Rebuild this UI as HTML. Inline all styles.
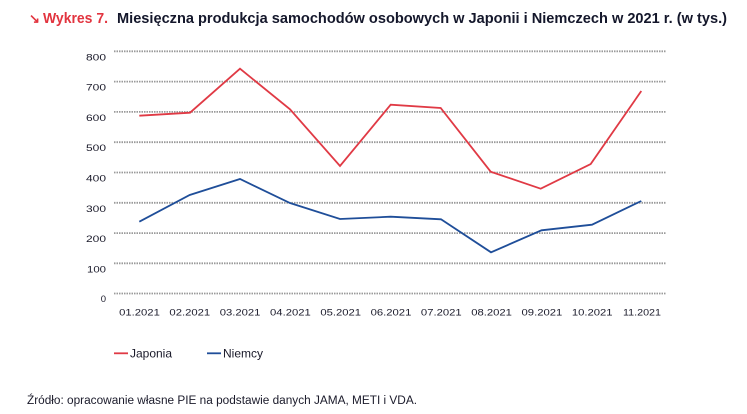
<!DOCTYPE html>
<html>
<head>
<meta charset="utf-8">
<style>
html,body{margin:0;padding:0;background:#fff;}
body{width:747px;height:414px;overflow:hidden;}
svg{display:block;}
text{font-family:"Liberation Sans", sans-serif;}
</style>
</head>
<body>
<svg width="747" height="414" viewBox="0 0 747 414" xmlns="http://www.w3.org/2000/svg">
  <!-- Title -->
  <text x="29" y="23" font-size="13" font-weight="bold" fill="#e2343f">↘</text>
  <text x="43" y="23" font-size="15" font-weight="bold" fill="#e2343f" textLength="65" lengthAdjust="spacingAndGlyphs">Wykres 7.</text>
  <text x="117" y="23" font-size="15" font-weight="bold" fill="#14172b" textLength="610" lengthAdjust="spacingAndGlyphs">Miesięczna produkcja samochodów osobowych w Japonii i Niemczech w 2021 r. (w tys.)</text>

  <!-- Gridlines -->
  <g stroke="#9a9a9a" stroke-width="1.8" stroke-dasharray="1.5 1">
    <line x1="114" y1="51.3" x2="666" y2="51.3"/>
    <line x1="114" y1="81.6" x2="666" y2="81.6"/>
    <line x1="114" y1="111.9" x2="666" y2="111.9"/>
    <line x1="114" y1="142.2" x2="666" y2="142.2"/>
    <line x1="114" y1="172.5" x2="666" y2="172.5"/>
    <line x1="114" y1="202.8" x2="666" y2="202.8"/>
    <line x1="114" y1="233.1" x2="666" y2="233.1"/>
    <line x1="114" y1="263.3" x2="666" y2="263.3"/>
    <line x1="114" y1="293.5" x2="666" y2="293.5"/>
  </g>

  <!-- Y labels -->
  <g font-size="9.5" fill="#1a1a2a" text-anchor="end">
    <text x="106" y="60.3" textLength="20" lengthAdjust="spacingAndGlyphs">800</text>
    <text x="106" y="90.6" textLength="20" lengthAdjust="spacingAndGlyphs">700</text>
    <text x="106" y="120.9" textLength="20" lengthAdjust="spacingAndGlyphs">600</text>
    <text x="106" y="151.2" textLength="20" lengthAdjust="spacingAndGlyphs">500</text>
    <text x="106" y="181.5" textLength="20" lengthAdjust="spacingAndGlyphs">400</text>
    <text x="106" y="211.8" textLength="20" lengthAdjust="spacingAndGlyphs">300</text>
    <text x="106" y="242.1" textLength="20" lengthAdjust="spacingAndGlyphs">200</text>
    <text x="106" y="272.3" textLength="19" lengthAdjust="spacingAndGlyphs">100</text>
    <text x="106" y="302">0</text>
  </g>

  <!-- X labels -->
  <g font-size="9.5" fill="#1a1a2a" text-anchor="middle">
    <text x="139.5" y="315.5" textLength="40.7" lengthAdjust="spacingAndGlyphs">01.2021</text>
    <text x="189.8" y="315.5" textLength="40.7" lengthAdjust="spacingAndGlyphs">02.2021</text>
    <text x="240.1" y="315.5" textLength="40.7" lengthAdjust="spacingAndGlyphs">03.2021</text>
    <text x="290.4" y="315.5" textLength="40.7" lengthAdjust="spacingAndGlyphs">04.2021</text>
    <text x="340.7" y="315.5" textLength="40.7" lengthAdjust="spacingAndGlyphs">05.2021</text>
    <text x="391" y="315.5" textLength="40.7" lengthAdjust="spacingAndGlyphs">06.2021</text>
    <text x="441.3" y="315.5" textLength="40.7" lengthAdjust="spacingAndGlyphs">07.2021</text>
    <text x="491.6" y="315.5" textLength="40.7" lengthAdjust="spacingAndGlyphs">08.2021</text>
    <text x="541.9" y="315.5" textLength="40.7" lengthAdjust="spacingAndGlyphs">09.2021</text>
    <text x="592.2" y="315.5" textLength="40.7" lengthAdjust="spacingAndGlyphs">10.2021</text>
    <text x="642" y="315.5" textLength="38" lengthAdjust="spacingAndGlyphs">11.2021</text>
  </g>

  <!-- Series -->
  <polyline fill="none" stroke="#e03a45" stroke-width="1.8" stroke-linejoin="miter"
    points="139.3,115.7 190,112.7 240,68.7 290,109.3 340,166 390.7,104.7 440.7,108 490.7,171.7 540.7,188.7 590.7,164 641.3,91"/>
  <polyline fill="none" stroke="#1f4e99" stroke-width="1.8" stroke-linejoin="miter"
    points="139.3,221.7 189.7,195 240,179 290,203 340,219 390.7,216.7 441,219.3 491,252.3 541.5,230.3 592,224.7 641.3,201"/>

  <!-- Legend -->
  <line x1="114" y1="353.3" x2="128" y2="353.3" stroke="#e03a45" stroke-width="1.8"/>
  <text x="130" y="357.5" font-size="12" fill="#1a1a2a" textLength="42" lengthAdjust="spacingAndGlyphs">Japonia</text>
  <line x1="207" y1="353.3" x2="221" y2="353.3" stroke="#1f4e99" stroke-width="1.8"/>
  <text x="223" y="357.5" font-size="12" fill="#1a1a2a" textLength="40" lengthAdjust="spacingAndGlyphs">Niemcy</text>

  <!-- Source -->
  <text x="27" y="404" font-size="11.5" fill="#1a1a2a" textLength="390" lengthAdjust="spacingAndGlyphs">Źródło: opracowanie własne PIE na podstawie danych JAMA, METI i VDA.</text>
</svg>
</body>
</html>
